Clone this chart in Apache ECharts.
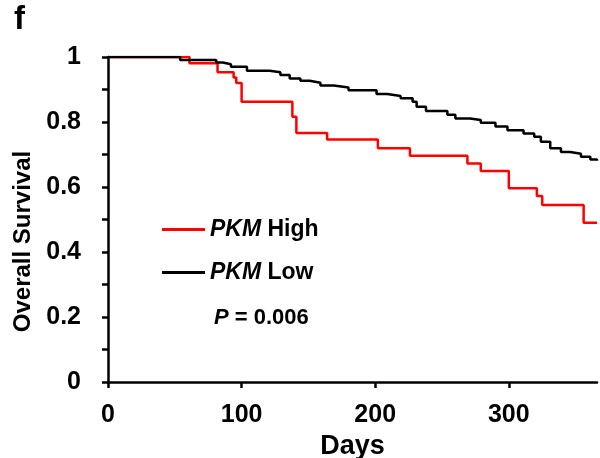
<!DOCTYPE html>
<html>
<head>
<meta charset="utf-8">
<script src="https://cdn.jsdelivr.net/npm/echarts@6/dist/echarts.min.js"></script>
<style>
  html, body { margin: 0; padding: 0; background: #fff; }
  #chart { width: 600px; height: 458px; }
</style>
</head>
<body>
<div id="chart"></div>
<script>
  // Kaplan-Meier points: [day, survival after that day]
  const highCurve = [
    [0, 1], [61, 0.981], [82, 0.953], [94, 0.937], [96, 0.92], [100, 0.862],
    [138, 0.816], [141, 0.766], [164, 0.746], [202, 0.719], [226, 0.696],
    [269, 0.672], [279, 0.649], [300, 0.596], [321, 0.572], [325, 0.545],
    [356, 0.49], [366, 0.49]
  ];
  const lowCurve = [
    [0, 1], [54, 0.991], [81, 0.983], [86, 0.978], [92, 0.97], [104, 0.958],
    [121, 0.953], [129, 0.945], [136, 0.934], [144, 0.927], [151, 0.921],
    [159, 0.912], [169, 0.906], [180, 0.898], [201, 0.886], [209, 0.88],
    [219, 0.873], [228, 0.862], [231, 0.847], [238, 0.834], [254, 0.822],
    [260, 0.811], [271, 0.806], [279, 0.798], [290, 0.786], [299, 0.775],
    [311, 0.765], [319, 0.755], [324, 0.739], [331, 0.719], [339, 0.708],
    [346, 0.702], [354, 0.693], [361, 0.685], [366, 0.681]
  ];
  const seriesNames = ['PKM High', 'PKM Low'];
  const pValue = '0.006';

  const chart = echarts.init(document.getElementById('chart'));
  const font = 'Liberation Sans, Arial, sans-serif';
  const axisStyle = { color: '#000', width: 2.5 };

  chart.setOption({
    animation: false,
    grid: { left: 108, right: 3, top: 57, bottom: 76, outerBoundsMode: 'none', containLabel: false },
    title: [{
      text: 'f',
      left: 9, top: -2,
      textStyle: { fontFamily: font, fontSize: 33, fontWeight: 'bold', color: '#000' }
    }, {
      text: '{i|P}{n| = ' + pValue + '}',
      left: 209, top: 302,
      textStyle: {
        fontFamily: font, fontSize: 22, color: '#000',
        rich: {
          i: { fontFamily: font, fontSize: 22, fontWeight: 'bold', fontStyle: 'italic', color: '#000' },
          n: { fontFamily: font, fontSize: 22, fontWeight: 'bold', color: '#000' }
        }
      }
    }],
    legend: {
      orient: 'vertical',
      left: 162, top: 218, padding: 0,
      icon: 'rect',
      itemWidth: 43, itemHeight: 3, itemGap: 20,
      data: seriesNames,
      formatter: function (name) {
        const parts = name.split(' ');
        return '{i|' + parts[0] + '}{b| ' + parts[1] + '}';
      },
      textStyle: {
        rich: {
          i: { fontFamily: font, fontSize: 23, fontWeight: 'bold', fontStyle: 'italic', color: '#000' },
          b: { fontFamily: font, fontSize: 23, fontWeight: 'bold', color: '#000' }
        }
      }
    },
    xAxis: {
      type: 'value', min: 0, max: 366, interval: 100,
      name: 'Days', nameLocation: 'middle', nameGap: 41,
      nameTextStyle: { fontFamily: font, fontSize: 27, fontWeight: 'bold', color: '#000' },
      axisLine: { lineStyle: axisStyle },
      axisTick: { show: true, length: 6, lineStyle: axisStyle },
      axisLabel: { fontFamily: font, fontSize: 25, fontWeight: 'bold', color: '#000', margin: 21, showMaxLabel: false },
      splitLine: { show: false }
    },
    yAxis: {
      type: 'value', min: 0, max: 1, interval: 0.2,
      name: 'Overall Survival', nameLocation: 'middle', nameGap: 69,
      nameTextStyle: { fontFamily: font, fontSize: 24, fontWeight: 'bold', color: '#000', padding: [0, 44, 0, 0] },
      axisLine: { show: true, lineStyle: axisStyle },
      axisTick: { show: true, length: 6, lineStyle: axisStyle },
      minorTick: { show: true, splitNumber: 2, length: 6, lineStyle: axisStyle },
      axisLabel: {
        fontFamily: font, fontSize: 25, fontWeight: 'bold', color: '#000', margin: 27,
        formatter: v => (v === 0 || v === 1) ? String(v) : v.toFixed(1)
      },
      splitLine: { show: false }
    },
    series: [{
      name: seriesNames[0], type: 'line', step: 'end', symbol: 'none',
      lineStyle: { color: '#ff0000', width: 2.5 }, itemStyle: { color: '#ff0000' },
      data: highCurve, z: 3
    }, {
      name: seriesNames[1], type: 'line', step: 'end', symbol: 'none',
      lineStyle: { color: '#000', width: 2.5 }, itemStyle: { color: '#000' },
      data: lowCurve, z: 4
    }]
  });
</script>
</body>
</html>
